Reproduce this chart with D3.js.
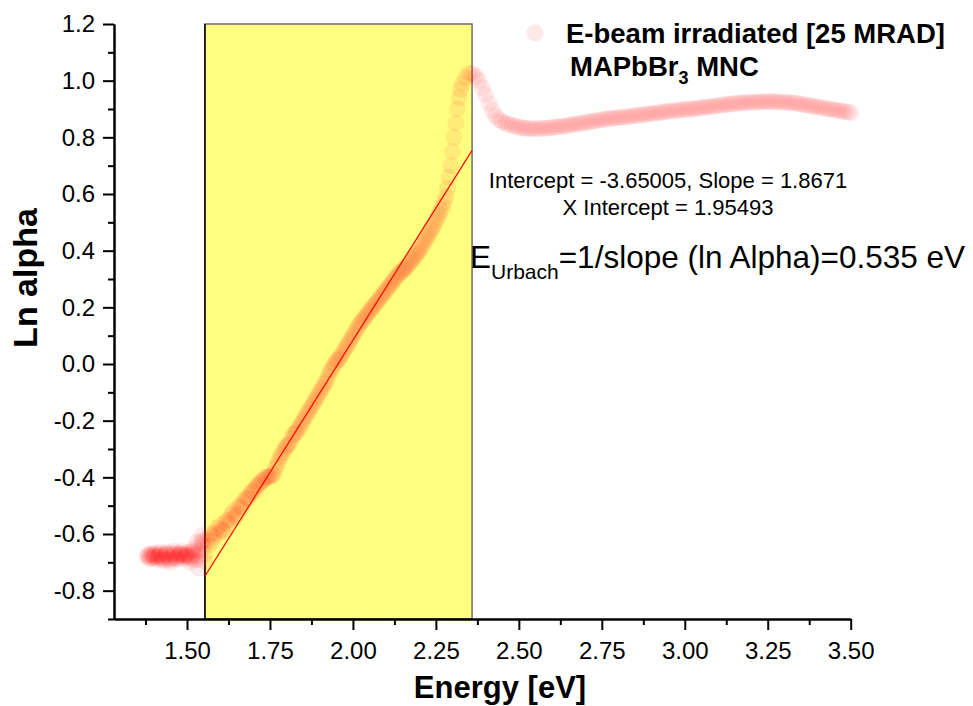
<!DOCTYPE html>
<html>
<head>
<meta charset="utf-8">
<script src="https://cdn.jsdelivr.net/npm/d3@7"></script>
<style>
  html, body { margin: 0; padding: 0; background: #fff; }
  svg { display: block; font-family: "Liberation Sans", Arial, sans-serif; }
</style>
</head>
<body>
<svg id="chart" width="973" height="706"></svg>
<script>
// ---- data: [Energy (eV), Ln alpha] ----
const belowGap = [
  [1.380,-0.680],[1.3825,-0.672],[1.385,-0.676],[1.3875,-0.688],[1.390,-0.684],[1.3925,-0.670],
  [1.395,-0.672],[1.3975,-0.686],[1.400,-0.680],[1.4025,-0.674],[1.405,-0.668],[1.4075,-0.682],
  [1.410,-0.690],[1.4125,-0.680],[1.415,-0.676],[1.4175,-0.670],[1.420,-0.664],[1.4225,-0.678],
  [1.425,-0.686],[1.4275,-0.690],[1.430,-0.694],[1.4325,-0.680],[1.435,-0.672],[1.4375,-0.666],
  [1.440,-0.668],[1.4425,-0.676],[1.445,-0.684],[1.4475,-0.692],[1.450,-0.700],[1.4525,-0.686],
  [1.455,-0.676],[1.4575,-0.668],[1.460,-0.660],[1.4625,-0.672],[1.465,-0.682],[1.4675,-0.686],
  [1.470,-0.690],[1.4725,-0.678],[1.475,-0.668],[1.4775,-0.672],[1.480,-0.676],[1.4825,-0.668],
  [1.485,-0.660],[1.4875,-0.674],[1.490,-0.688],[1.4925,-0.680],[1.495,-0.672],[1.4975,-0.676],
  [1.500,-0.680],[1.5025,-0.672],[1.505,-0.664],[1.5075,-0.682],[1.510,-0.700],[1.5125,-0.688],
  [1.515,-0.676],[1.5175,-0.662],[1.520,-0.650],[1.5225,-0.670],[1.525,-0.690],[1.5275,-0.660],
  [1.530,-0.630],[1.5325,-0.676],[1.535,-0.720],[1.5375,-0.690],[1.540,-0.660],[1.5425,-0.632],
  [1.545,-0.605],[1.5475,-0.622],[1.550,-0.640],[1.5525,-0.670],[1.555,-0.700]
];
const absorptionEdge = [
  [1.560,-0.620],[1.565,-0.640],[1.570,-0.600],[1.575,-0.625],[1.580,-0.610],[1.585,-0.595],
  [1.590,-0.580],[1.595,-0.600],[1.600,-0.570],[1.605,-0.585],[1.610,-0.590],[1.615,-0.560],
  [1.620,-0.550],[1.625,-0.565],[1.630,-0.550],[1.635,-0.530],[1.640,-0.520],[1.645,-0.540],
  [1.650,-0.530],[1.655,-0.505],[1.660,-0.500],[1.665,-0.510],[1.670,-0.490],[1.675,-0.480],
  [1.680,-0.470],[1.685,-0.475],[1.690,-0.460],[1.695,-0.450],[1.700,-0.450],[1.705,-0.440],
  [1.710,-0.430],[1.715,-0.428],[1.720,-0.420],[1.725,-0.414],[1.730,-0.410],[1.735,-0.402],
  [1.740,-0.400],[1.745,-0.398],[1.750,-0.400],[1.755,-0.392],[1.760,-0.390],[1.765,-0.372],
  [1.770,-0.360],[1.775,-0.345],[1.780,-0.330],[1.785,-0.320],[1.790,-0.310],[1.795,-0.298],
  [1.800,-0.290],[1.805,-0.286],[1.810,-0.280],[1.815,-0.262],[1.820,-0.250],[1.825,-0.246],
  [1.830,-0.240],[1.835,-0.230],[1.840,-0.220],[1.845,-0.210],[1.850,-0.200],[1.855,-0.190],
  [1.860,-0.180],[1.865,-0.170],[1.870,-0.160],[1.875,-0.150],[1.880,-0.140],[1.885,-0.130],
  [1.890,-0.120],[1.895,-0.110],[1.900,-0.100],[1.905,-0.090],[1.910,-0.080],[1.915,-0.070],
  [1.920,-0.060],[1.925,-0.045],[1.930,-0.030],[1.935,-0.020],[1.940,-0.010],[1.945,0.000],
  [1.950,0.010],[1.955,0.015],[1.960,0.020],[1.965,0.030],[1.970,0.040],[1.975,0.050],
  [1.980,0.060],[1.985,0.070],[1.990,0.080],[1.995,0.090],[2.000,0.100],[2.005,0.110],
  [2.010,0.120],[2.015,0.130],[2.020,0.140],[2.025,0.148],[2.030,0.155],[2.035,0.162],
  [2.040,0.170],[2.045,0.178],[2.050,0.185],[2.055,0.192],[2.060,0.200],[2.065,0.208],
  [2.070,0.215],[2.075,0.222],[2.080,0.230],[2.085,0.238],[2.090,0.245],[2.095,0.252],
  [2.100,0.260],[2.105,0.268],[2.110,0.275],[2.115,0.282],[2.120,0.290],[2.125,0.298],
  [2.130,0.305],[2.135,0.312],[2.140,0.320],[2.145,0.325],[2.150,0.330],[2.155,0.335],
  [2.160,0.340],[2.165,0.348],[2.170,0.355],[2.175,0.362],[2.180,0.370],[2.185,0.378],
  [2.190,0.385],[2.195,0.392],[2.200,0.400],[2.205,0.410],[2.210,0.420],[2.215,0.430],
  [2.220,0.440],[2.225,0.450],[2.230,0.460],[2.235,0.470],[2.240,0.480],[2.245,0.492],
  [2.250,0.505],[2.255,0.518],[2.260,0.530],[2.265,0.542],[2.270,0.555],[2.275,0.572],
  [2.280,0.590],[2.285,0.620],[2.290,0.660],[2.295,0.700],[2.300,0.750],[2.305,0.800],
  [2.310,0.850],[2.315,0.900],[2.320,0.940],[2.325,0.970],[2.330,0.990]
];
const aboveGap = [
  [2.34,1.010],[2.35,1.025],[2.36,1.025],[2.37,1.015],[2.38,1.000],[2.39,0.975],
  [2.40,0.950],[2.41,0.920],[2.42,0.895],[2.43,0.875],[2.44,0.862],[2.45,0.855],
  [2.46,0.850],[2.47,0.846],[2.48,0.842],[2.49,0.839],[2.50,0.836],[2.51,0.834],
  [2.52,0.832],[2.53,0.831],[2.54,0.830],[2.55,0.830],[2.56,0.830],[2.57,0.831],
  [2.58,0.832],[2.59,0.833],[2.60,0.835],[2.61,0.836],[2.62,0.838],[2.63,0.839],
  [2.64,0.840],[2.65,0.842],[2.66,0.845],[2.67,0.846],[2.68,0.848],[2.69,0.850],
  [2.70,0.852],[2.71,0.854],[2.72,0.856],[2.73,0.858],[2.74,0.860],[2.75,0.862],
  [2.76,0.864],[2.77,0.866],[2.78,0.867],[2.79,0.868],[2.80,0.869],[2.81,0.870],
  [2.82,0.872],[2.83,0.873],[2.84,0.875],[2.85,0.876],[2.86,0.878],[2.87,0.879],
  [2.88,0.881],[2.89,0.882],[2.90,0.884],[2.91,0.885],[2.92,0.887],[2.93,0.888],
  [2.94,0.890],[2.95,0.891],[2.96,0.893],[2.97,0.894],[2.98,0.896],[2.99,0.897],
  [3.00,0.898],[3.01,0.899],[3.02,0.900],[3.03,0.901],[3.04,0.903],[3.05,0.904],
  [3.06,0.906],[3.07,0.907],[3.08,0.909],[3.09,0.910],[3.10,0.912],[3.11,0.913],
  [3.12,0.915],[3.13,0.916],[3.14,0.918],[3.15,0.919],[3.16,0.920],[3.17,0.921],
  [3.18,0.922],[3.19,0.923],[3.20,0.924],[3.21,0.924],[3.22,0.925],[3.23,0.925],
  [3.24,0.926],[3.25,0.926],[3.26,0.926],[3.27,0.926],[3.28,0.925],[3.29,0.925],
  [3.30,0.924],[3.31,0.923],[3.32,0.922],[3.33,0.921],[3.34,0.919],[3.35,0.917],
  [3.36,0.915],[3.37,0.913],[3.38,0.911],[3.39,0.909],[3.40,0.907],[3.41,0.905],
  [3.42,0.903],[3.43,0.901],[3.44,0.899],[3.45,0.897],[3.46,0.895],[3.47,0.893],
  [3.48,0.891],[3.49,0.889],[3.50,0.887]
];
const fitEnergy = [1.554, 2.359];
const fitLnAlpha = [-0.749, 0.754];
const highlightRange = [1.554, 2.359];
const xTicks = [1.50, 1.75, 2.00, 2.25, 2.50, 2.75, 3.00, 3.25, 3.50];
const xMinorTicks = [1.375, 1.625, 1.875, 2.125, 2.375, 2.625, 2.875, 3.125, 3.375];
const yTicks = [-0.8, -0.6, -0.4, -0.2, 0.0, 0.2, 0.4, 0.6, 0.8, 1.0, 1.2];
const yMinorTicks = [-0.9, -0.7, -0.5, -0.3, -0.1, 0.1, 0.3, 0.5, 0.7, 0.9, 1.1];
const legendLabel = "E-beam irradiated [25 MRAD]";
const fitText1 = "Intercept = -3.65005, Slope = 1.8671";
const fitText2 = "X Intercept = 1.95493";

// ---- layout ----
const L = 114, R = 850.7, T = 24, B = 619;
const svg = d3.select("#chart");
const x = d3.scaleLinear().domain([1.28, 3.50]).range([L, R]);
const y = d3.scaleLinear().domain([-0.9, 1.2]).range([B, T]);

// highlight rectangle
svg.append("rect")
  .attr("x", x(highlightRange[0])).attr("y", y(1.2))
  .attr("width", x(highlightRange[1]) - x(highlightRange[0]))
  .attr("height", y(-0.9) - y(1.2))
  .attr("fill", "#ffff80").attr("stroke", "#6e6e6e").attr("stroke-width", 1.5);
svg.append("line")
  .attr("x1", x(highlightRange[0])).attr("x2", x(highlightRange[0]))
  .attr("y1", y(1.2)).attr("y2", y(-0.9))
  .attr("stroke", "#000").attr("stroke-width", 1.5);

// scatter points
const pts = belowGap.concat(absorptionEdge, aboveGap);
svg.append("g").selectAll("circle").data(pts).enter().append("circle")
  .attr("cx", d => x(d[0])).attr("cy", d => y(d[1]))
  .attr("r", 8.5)
  .attr("fill", "#ff1a1a").attr("fill-opacity", 0.085);

// fit line
svg.append("line")
  .attr("x1", x(fitEnergy[0])).attr("y1", y(fitLnAlpha[0]))
  .attr("x2", x(fitEnergy[1])).attr("y2", y(fitLnAlpha[1]))
  .attr("stroke", "#ff0000").attr("stroke-width", 1.2);

// axes
const fmtX = d => d3.format(".2f")(d);
const fmtY = d => d3.format(".1f")(d).replace("\u2212", "-");
const xAxis = svg.append("g").attr("transform", `translate(0,${B})`)
  .call(d3.axisBottom(x).tickValues(xTicks).tickFormat(fmtX).tickSize(11).tickSizeOuter(0));
const xMinor = svg.append("g").attr("transform", `translate(0,${B})`)
  .call(d3.axisBottom(x).tickValues(xMinorTicks).tickFormat("").tickSize(6).tickSizeOuter(0));
const yAxis = svg.append("g").attr("transform", `translate(${L},0)`)
  .call(d3.axisLeft(y).tickValues(yTicks).tickFormat(fmtY).tickSize(11).tickSizeOuter(0));
const yMinor = svg.append("g").attr("transform", `translate(${L},0)`)
  .call(d3.axisLeft(y).tickValues(yMinorTicks).tickFormat("").tickSize(6).tickSizeOuter(0));
[xAxis, xMinor, yAxis, yMinor].forEach(g => {
  g.select(".domain").attr("stroke", "#000").attr("stroke-width", 2);
  g.selectAll(".tick line").attr("stroke", "#000").attr("stroke-width", 2);
  g.selectAll(".tick text").attr("fill", "#000")
    .style("font-family", "'Liberation Sans', Arial, sans-serif").style("font-size", "24px");
});
xAxis.selectAll(".tick text").attr("y", 40).attr("dy", null);
yAxis.selectAll(".tick text").attr("x", -19);

// axis titles
svg.append("text").attr("x", 500).attr("y", 698)
  .attr("text-anchor", "middle").attr("font-weight", "bold").attr("font-size", 31)
  .text("Energy [eV]");
svg.append("text").attr("transform", "translate(37,278) rotate(-90)")
  .attr("text-anchor", "middle").attr("font-weight", "bold").attr("font-size", 34)
  .text("Ln alpha");

// legend
svg.append("circle").attr("cx", 535).attr("cy", 33).attr("r", 8.5)
  .attr("fill", "#ff1a1a").attr("fill-opacity", 0.1);
svg.append("text").attr("x", 566).attr("y", 43)
  .attr("font-weight", "bold").attr("font-size", 27.5).text(legendLabel);
const t2 = svg.append("text").attr("x", 570).attr("y", 76)
  .attr("font-weight", "bold").attr("font-size", 27.5);
t2.append("tspan").text("MAPbBr");
t2.append("tspan").attr("font-size", 18).attr("dy", 8).text("3");
t2.append("tspan").attr("dy", -8).text(" MNC");

// fit annotations
svg.append("text").attr("x", 668).attr("y", 188).attr("text-anchor", "middle")
  .attr("font-size", 22).text(fitText1);
svg.append("text").attr("x", 668).attr("y", 215).attr("text-anchor", "middle")
  .attr("font-size", 22).text(fitText2);
const eu = svg.append("text").attr("x", 470).attr("y", 268).attr("font-size", 31.5);
eu.append("tspan").text("E");
eu.append("tspan").attr("font-size", 21).attr("dy", 11).text("Urbach");
eu.append("tspan").attr("dy", -11).text("=1/slope (ln Alpha)=0.535 eV");
</script>
</body>
</html>
